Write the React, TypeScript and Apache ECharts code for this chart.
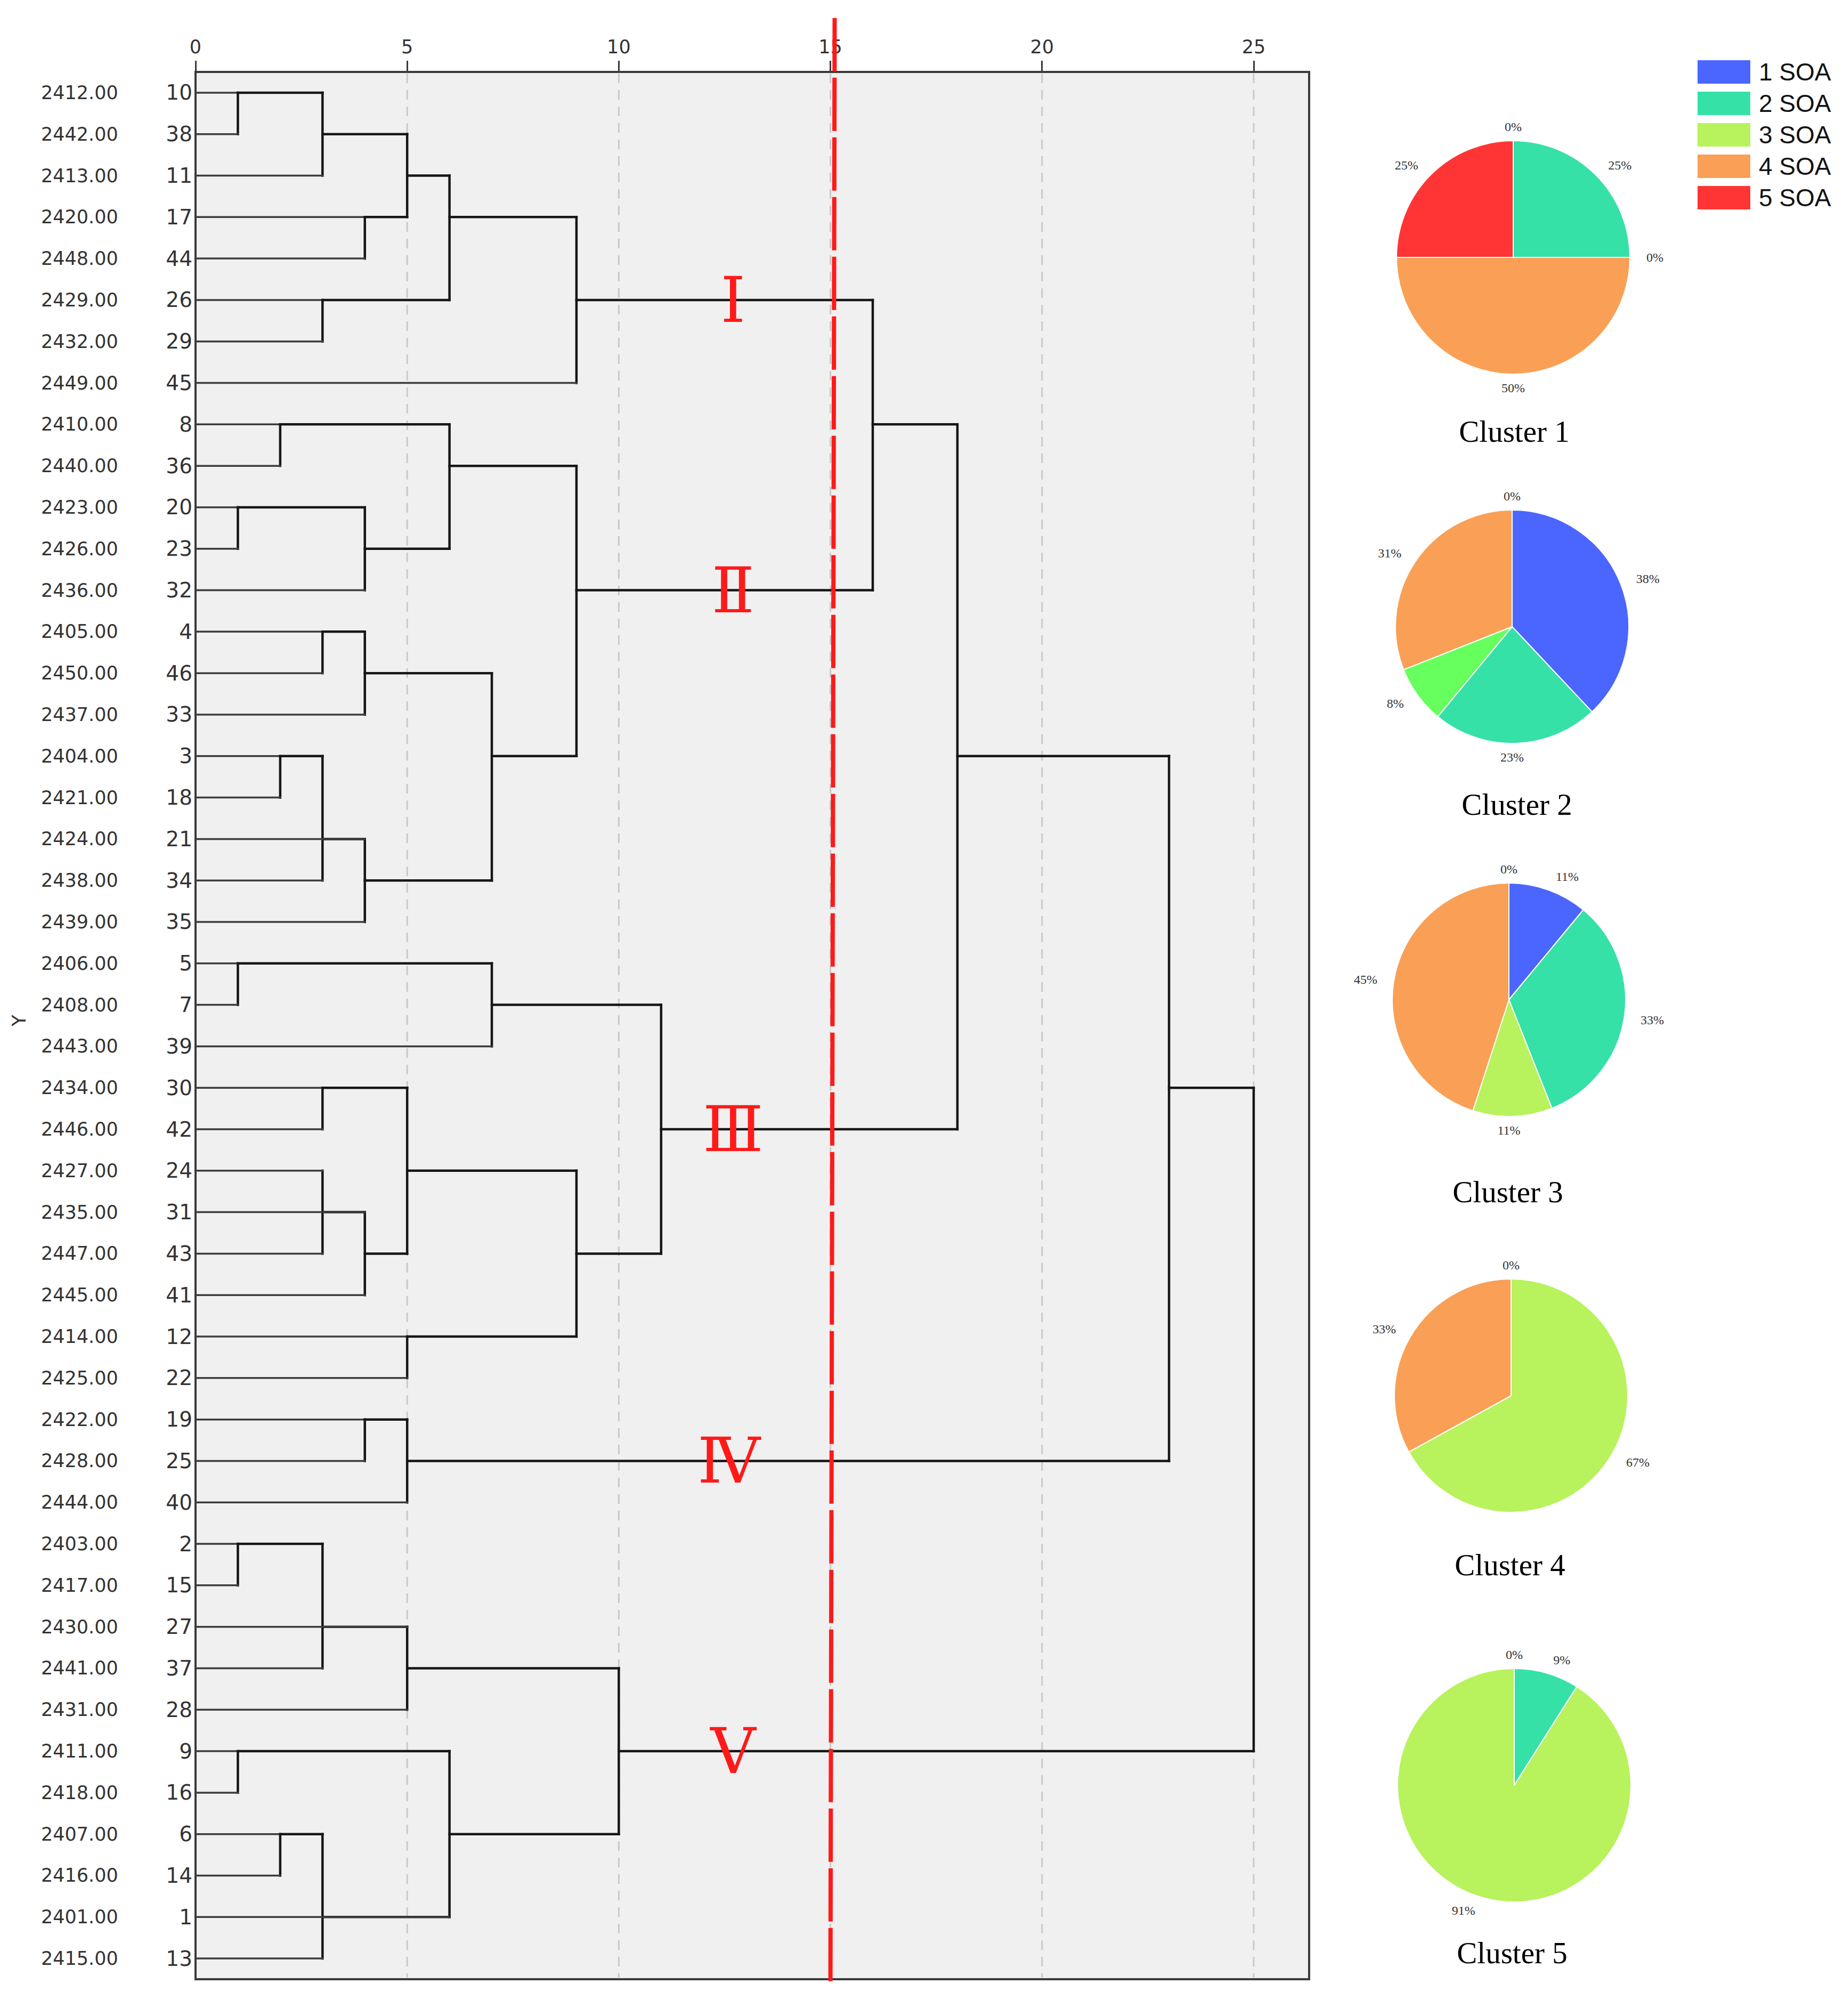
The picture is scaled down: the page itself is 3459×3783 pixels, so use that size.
import React, { useEffect, useRef } from 'react';
import * as echarts from 'echarts';

// ---------- DATA ----------
const caseLabels = [
  '2412.00', '2442.00', '2413.00', '2420.00', '2448.00', '2429.00', '2432.00', '2449.00',
  '2410.00', '2440.00', '2423.00', '2426.00', '2436.00', '2405.00', '2450.00', '2437.00',
  '2404.00', '2421.00', '2424.00', '2438.00', '2439.00', '2406.00', '2408.00', '2443.00',
  '2434.00', '2446.00', '2427.00', '2435.00', '2447.00', '2445.00', '2414.00', '2425.00',
  '2422.00', '2428.00', '2444.00', '2403.00', '2417.00', '2430.00', '2441.00', '2431.00',
  '2411.00', '2418.00', '2407.00', '2416.00', '2401.00', '2415.00',
];
const caseNumbers = [
  '10', '38', '11', '17', '44', '26', '29', '45',
  '8', '36', '20', '23', '32', '4', '46', '33',
  '3', '18', '21', '34', '35', '5', '7', '39',
  '30', '42', '24', '31', '43', '41', '12', '22',
  '19', '25', '40', '2', '15', '27', '37', '28',
  '9', '16', '6', '14', '1', '13',
];

// merge nodes: [rescaled distance, row where the merged cluster continues (1-based), members]
// members: 'L<row>' = leaf at that row, 'N<i>' = earlier merge node i
const mergeNodes: [number, number, string[]][] = [
  [1, 1, ['L1', 'L2']],          // N0
  [3, 2, ['N0', 'L3']],          // N1
  [4, 4, ['L4', 'L5']],          // N2
  [5, 3, ['N1', 'N2']],          // N3
  [3, 6, ['L6', 'L7']],          // N4
  [6, 4, ['N3', 'N4']],          // N5
  [9, 6, ['N5', 'L8']],          // N6
  [2, 9, ['L9', 'L10']],         // N7
  [1, 11, ['L11', 'L12']],       // N8
  [4, 12, ['N8', 'L13']],        // N9
  [6, 10, ['N7', 'N9']],         // N10
  [3, 14, ['L14', 'L15']],       // N11
  [4, 15, ['N11', 'L16']],       // N12
  [2, 17, ['L17', 'L18']],       // N13
  [3, 19, ['N13', 'L20']],       // N14
  [4, 20, ['N14', 'L19', 'L21']],// N15
  [7, 17, ['N12', 'N15']],       // N16
  [9, 13, ['N10', 'N16']],       // N17
  [16, 9, ['N6', 'N17']],        // N18
  [1, 22, ['L22', 'L23']],       // N19
  [7, 23, ['N19', 'L24']],       // N20
  [3, 25, ['L25', 'L26']],       // N21
  [3, 28, ['L27', 'L29']],       // N22
  [4, 29, ['N22', 'L28', 'L30']],// N23
  [5, 27, ['N21', 'N23']],       // N24
  [5, 31, ['L31', 'L32']],       // N25
  [9, 29, ['N24', 'N25']],       // N26
  [11, 26, ['N20', 'N26']],      // N27
  [18, 17, ['N18', 'N27']],      // N28
  [4, 33, ['L33', 'L34']],       // N29
  [5, 34, ['N29', 'L35']],       // N30
  [23, 25, ['N28', 'N30']],      // N31
  [1, 36, ['L36', 'L37']],       // N32
  [3, 38, ['N32', 'L39']],       // N33
  [5, 39, ['N33', 'L38', 'L40']],// N34
  [1, 41, ['L41', 'L42']],       // N35
  [2, 43, ['L43', 'L44']],       // N36
  [3, 45, ['N36', 'L46']],       // N37
  [6, 43, ['N35', 'N37', 'L45']],// N38
  [10, 41, ['N34', 'N38']],      // N39
  [25, 33, ['N31', 'N39']],      // N40 (root)
];

const tickValues = [0, 5, 10, 15, 20, 25];
const gridValues = [5, 10, 15, 20, 25];
const cutLineX = [15.1, 15.0]; // top, bottom
const romanLabels = ['Ⅰ', 'Ⅱ', 'Ⅲ', 'Ⅳ', 'Ⅴ'];
const romanRows = [6, 13, 26, 34, 41];
const romanX = [12.7, 12.7, 12.7, 12.6, 12.7];

const soaNames = ['1 SOA', '2 SOA', '3 SOA', '4 SOA', '5 SOA'];
const clusterNames = ['Cluster 1', 'Cluster 2', 'Cluster 3', 'Cluster 4', 'Cluster 5'];
const cluster1Shares = [0, 25, 0, 50, 25];
const cluster2Shares = [38, 23, 8, 31, 0];
const cluster3Shares = [11, 33, 11, 45, 0];
const cluster4Shares = [0, 0, 67, 33, 0];
const cluster5Shares = [0, 9, 91, 0, 0];
const clusterShares = [cluster1Shares, cluster2Shares, cluster3Shares, cluster4Shares, cluster5Shares];

// ---------- STYLE / LAYOUT ----------
const soaColors = ['#4b66ff', '#35e1a7', '#b8f25c', '#f9a056', '#ff3535'];
const sliceColorOverrides: Record<number, Record<number, string>> = { 1: { 2: '#66ff5e' } };
const W = 3459;
const H = 3783;
const GRID = { left: 367, top: 135, width: 2090, height: 3579 };
const X_MAX = 26.31;
const CUT_Y = [-1.8, 45.7];
const PIE_CENTERS = [[2840, 483], [2838, 1176], [2832, 1876], [2836, 2619], [2842, 3350]];
const PIE_RADIUS = 219;
const TITLE_POS = [[2842, 809], [2847, 1509], [2830, 2236], [2834, 2936], [2838, 3664]];
const AXIS_FONT = 'DejaVu Sans';

function kidRow(k: string): number {
  return k[0] === 'L' ? Number(k.slice(1)) : mergeNodes[Number(k.slice(1))][1];
}
function kidX(k: string): number {
  return k[0] === 'L' ? 0 : mergeNodes[Number(k.slice(1))][0];
}

function buildSegments() {
  const segs: number[][] = [];
  mergeNodes.forEach(([d, , kids]) => {
    const rows = kids.map(kidRow);
    segs.push([d, Math.min(...rows) - 1, d, Math.max(...rows) - 1, 1]);
    kids.forEach((k) => {
      const r = kidRow(k) - 1;
      segs.push([kidX(k), r, d, r, k[0] === 'L' ? 0 : 1]);
    });
  });
  return segs;
}

function buildOption() {
  const segments = buildSegments();

  const pieSeries = clusterShares.map((shares, ci) => ({
    type: 'pie',
    name: clusterNames[ci],
    center: PIE_CENTERS[ci],
    radius: PIE_RADIUS,
    startAngle: 90,
    clockwise: true,
    avoidLabelOverlap: false,
    percentPrecision: 0,
    silent: true,
    label: {
      show: true,
      position: 'outside',
      formatter: '{d}%',
      fontFamily: 'Liberation Serif',
      fontSize: 24,
      color: '#333',
    },
    labelLine: { show: false, length: 26, length2: 0 },
    labelLayout: (params: any) => {
      const r = params.labelRect;
      if (!r) return { hideOverlap: true };
      const cx = PIE_CENTERS[ci][0];
      const mid = r.x + r.width / 2;
      if (Math.abs(mid - cx) < 45) return { x: cx, align: 'center', hideOverlap: true };
      return { hideOverlap: true };
    },
    itemStyle: { borderColor: '#ffffff', borderWidth: 2 },
    emphasis: { disabled: true },
    data: shares.map((v, i) => ({
      name: soaNames[i],
      value: v,
      itemStyle: { color: (sliceColorOverrides[ci] && sliceColorOverrides[ci][i]) || soaColors[i] },
    })),
  }));

  return {
    animation: false,
    backgroundColor: '#ffffff',
    textStyle: { fontFamily: AXIS_FONT },
    grid: {
      ...GRID,
      show: true,
      backgroundColor: '#f0f0f0',
      borderColor: '#3a3a3a',
      borderWidth: 4,
      containLabel: false,
    },
    legend: {
      orient: 'vertical',
      left: 3179,
      top: 106,
      itemWidth: 101,
      itemHeight: 46,
      itemGap: 11,
      icon: 'rect',
      selectedMode: false,
      data: soaNames,
      textStyle: {
        fontFamily: 'Liberation Sans',
        fontSize: 46,
        color: '#111',
        padding: [0, 0, 0, 10],
      },
    },
    xAxis: {
      type: 'value',
      position: 'top',
      min: 0,
      max: X_MAX,
      interval: 5,
      axisLine: { show: true, onZero: false, lineStyle: { color: '#3a3a3a', width: 4 } },
      axisTick: { show: true, length: 21, customValues: tickValues, lineStyle: { color: '#3a3a3a', width: 3 } },
      axisLabel: {
        customValues: tickValues,
        margin: 30,
        fontFamily: AXIS_FONT,
        fontSize: 35,
        color: '#333',
        formatter: (v: number) => (v % 5 === 0 ? String(v) : ''),
      },
      splitLine: { show: false },
    },
    yAxis: [
      {
        type: 'category',
        data: caseLabels,
        inverse: true,
        axisLine: { show: false },
        axisTick: { show: false },
        splitLine: { show: false },
        axisLabel: {
          interval: 0,
          margin: 6,
          formatter: (v: string, i: number) => `{a|${v}}{b|${caseNumbers[i]}}`,
          rich: {
            a: { fontFamily: AXIS_FONT, fontSize: 35, color: '#333', width: 232, align: 'left' },
            b: { fontFamily: AXIS_FONT, fontSize: 39, color: '#333', width: 52, align: 'right' },
          },
        },
      },
      { type: 'value', min: -0.5, max: 45.5, inverse: true, show: false },
    ],
    graphic: [
      ...clusterNames.map((t, i) => ({
        type: 'text',
        x: TITLE_POS[i][0],
        y: TITLE_POS[i][1],
        style: {
          text: t,
          fontFamily: 'Liberation Serif',
          fontSize: 57,
          fill: '#000',
          align: 'center',
          verticalAlign: 'middle',
        },
      })),
      {
        type: 'text',
        x: 36,
        y: 1915,
        rotation: Math.PI / 2,
        style: {
          text: 'Y',
          fontFamily: AXIS_FONT,
          fontSize: 35,
          fill: '#333',
          align: 'center',
          verticalAlign: 'middle',
        },
      },
    ],
    series: [
      {
        type: 'custom',
        name: 'grid',
        coordinateSystem: 'cartesian2d',
        xAxisIndex: 0,
        yAxisIndex: 1,
        silent: true,
        clip: false,
        z: 1,
        data: gridValues.map((g) => [g]),
        encode: { x: 0 },
        renderItem: (params: any, api: any) => {
          const x = api.value(0);
          const p1 = api.coord([x, -0.5]);
          const p2 = api.coord([x, 45.5]);
          return {
            type: 'line',
            shape: { x1: p1[0], y1: p1[1] + 3, x2: p2[0], y2: p2[1] - 3 },
            style: { stroke: '#c9c9c9', lineWidth: 3, lineDash: [18, 13] },
          };
        },
      },
      {
        type: 'custom',
        name: 'dendrogram',
        coordinateSystem: 'cartesian2d',
        xAxisIndex: 0,
        yAxisIndex: 1,
        silent: true,
        clip: false,
        z: 3,
        data: segments,
        encode: { x: [0, 2], y: [1, 3] },
        renderItem: (params: any, api: any) => {
          const p1 = api.coord([api.value(0), api.value(1)]);
          const p2 = api.coord([api.value(2), api.value(3)]);
          const isLeaf = api.value(4) === 0;
          return {
            type: 'line',
            shape: { x1: p1[0], y1: p1[1], x2: p2[0], y2: p2[1] },
            style: {
              stroke: isLeaf ? '#3c3c3c' : '#161616',
              lineWidth: isLeaf ? 3.5 : 4.5,
              lineCap: 'square',
            },
          };
        },
      },
      {
        type: 'custom',
        name: 'roman',
        coordinateSystem: 'cartesian2d',
        xAxisIndex: 0,
        yAxisIndex: 1,
        silent: true,
        clip: false,
        z: 4,
        data: romanRows.map((r, i) => [romanX[i], r - 1]),
        encode: { x: 0, y: 1 },
        renderItem: (params: any, api: any) => {
          const p = api.coord([api.value(0), api.value(1)]);
          return {
            type: 'text',
            x: p[0],
            y: p[1],
            style: {
              text: romanLabels[params.dataIndex],
              fill: '#ff1a1a',
              fontFamily: 'DejaVu Serif',
              fontWeight: 'normal',
              fontSize: 118,
              align: 'center',
              verticalAlign: 'middle',
            },
          };
        },
      },
      {
        type: 'custom',
        name: 'cut',
        coordinateSystem: 'cartesian2d',
        xAxisIndex: 0,
        yAxisIndex: 1,
        silent: true,
        clip: false,
        z: 10,
        data: [cutLineX],
        encode: { x: [0, 1] },
        renderItem: (params: any, api: any) => {
          const p1 = api.coord([api.value(0), CUT_Y[0]]);
          const p2 = api.coord([api.value(1), CUT_Y[1]]);
          return {
            type: 'line',
            shape: { x1: p1[0], y1: p1[1], x2: p2[0], y2: p2[1] },
            style: { stroke: '#ff1a1a', lineWidth: 8, lineDash: [100, 12] },
          };
        },
      },
      ...pieSeries,
    ],
  };
}

export default function App() {
  const ref = useRef<HTMLDivElement>(null);
  useEffect(() => {
    if (!ref.current) return;
    const chart = echarts.init(ref.current, undefined, { renderer: 'svg' });
    chart.setOption(buildOption() as any);
    return () => chart.dispose();
  }, []);
  return (
    <div
      ref={ref}
      style={{ position: 'absolute', left: 0, top: 0, width: W, height: H, background: '#fff' }}
    />
  );
}
